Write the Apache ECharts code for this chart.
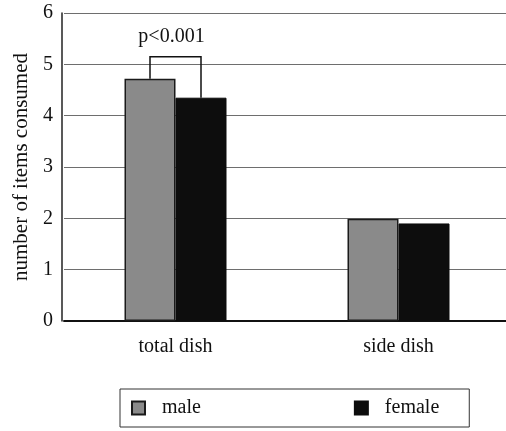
<!DOCTYPE html>
<html lang="en" style="height: 100%">
<head>
  <meta charset="utf-8">
</head>
<body style="height: 100%; margin: 0; background: #fff">
<div id="container" style="height: 100%"></div>

<script type="text/javascript" src="https://fastly.jsdelivr.net/npm/echarts@6/dist/echarts.min.js"></script>
<script type="text/javascript">
  var categories = ['total dish', 'side dish'];
  var maleValues = [4.72, 1.99];
  var femaleValues = [4.35, 1.9];
  var yTicks = [0, 1, 2, 3, 4, 5, 6];
  // bracket: category index, male top, female top, bracket top
  var bracketData = [[0, 4.72, 4.35, 5.15]];
  var bracketText = 'p<0.001';

  var serif = '"Liberation Serif", "DejaVu Serif", serif';
  var barW = 51;

  var dom = document.getElementById('container');
  var myChart = echarts.init(dom, null, { renderer: 'canvas' });

  var option = {
    animation: false,
    grid: { left: 64, top: 13, width: 446, bottom: 110, outerBoundsMode: 'none', containLabel: false },
    legend: {
      data: ['male', 'female'],
      left: 120,
      top: 389,
      orient: 'horizontal',
      icon: 'rect',
      itemWidth: 13,
      itemHeight: 13,
      itemGap: 153,
      borderColor: '#333',
      borderWidth: 1,
      padding: [9, 30, 9, 11],
      textStyle: { fontFamily: serif, fontSize: 20, lineHeight: 20, color: '#111', padding: [0, 0, 0, 12] }
    },
    xAxis: {
      type: 'category',
      data: categories,
      axisTick: { show: false },
      axisLine: { lineStyle: { color: '#111', width: 2 } },
      axisLabel: { fontFamily: serif, fontSize: 20, color: '#111', margin: 16 }
    },
    yAxis: {
      type: 'value',
      min: yTicks[0],
      max: yTicks[yTicks.length - 1],
      interval: 1,
      offset: 2,
      name: 'number of items consumed',
      nameLocation: 'middle',
      nameGap: 29,
      nameTextStyle: { fontFamily: serif, fontSize: 21, color: '#111' },
      axisLine: { show: true, lineStyle: { color: '#222', width: 1.5 } },
      axisTick: { show: false },
      axisLabel: { fontFamily: serif, fontSize: 20, color: '#111', margin: 9 },
      splitLine: { lineStyle: { color: '#6e6e6e', width: 1 } }
    },
    series: [
      {
        name: 'male',
        type: 'bar',
        data: maleValues,
        barWidth: barW,
        barGap: '0%',
        itemStyle: { color: '#8a8a8a', borderColor: '#1a1a1a', borderWidth: 1.5 }
      },
      {
        name: 'female',
        type: 'bar',
        data: femaleValues,
        barWidth: barW,
        itemStyle: { color: '#0d0d0d', borderColor: '#0d0d0d', borderWidth: 1 }
      },
      {
        type: 'custom',
        data: bracketData,
        z: 5,
        renderItem: function (params, api) {
          var cx = api.coord([api.value(0), 0])[0];
          var xl = cx - barW / 2;
          var xr = cx + barW / 2;
          var yl = api.coord([api.value(0), api.value(1)])[1];
          var yr = api.coord([api.value(0), api.value(2)])[1];
          var yt = api.coord([api.value(0), api.value(3)])[1];
          return {
            type: 'group',
            children: [
              {
                type: 'polyline',
                shape: { points: [[xl, yl], [xl, yt], [xr, yt], [xr, yr]] },
                style: { stroke: '#111', lineWidth: 1.5, fill: null }
              },
              {
                type: 'text',
                style: {
                  text: bracketText,
                  x: cx - 4,
                  y: yt - 10,
                  align: 'center',
                  verticalAlign: 'bottom',
                  font: '20px ' + serif,
                  fill: '#111'
                }
              }
            ]
          };
        }
      }
    ]
  };

  myChart.setOption(option);
  window.addEventListener('resize', myChart.resize);
</script>
</body>
</html>
